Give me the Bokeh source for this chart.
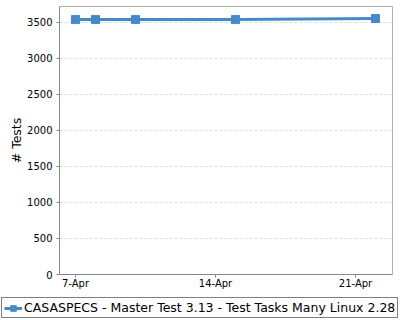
from datetime import datetime
from bokeh.plotting import figure
from bokeh.layouts import column
from bokeh.models import (FixedTicker, DatetimeTickFormatter, Legend, LegendItem,
                          Range1d, ColumnDataSource)
from bokeh.embed import file_html
from bokeh.resources import INLINE

dates = ["2021-04-07", "2021-04-08", "2021-04-10", "2021-04-15", "2021-04-22"]
tests = [3540, 3540, 3540, 3540, 3555]
series_name = "CASASPECS - Master Test 3.13 - Test Tasks Many Linux 2.28"
x_tick_dates = ["2021-04-07", "2021-04-14", "2021-04-21"]
y_ticks = [0, 500, 1000, 1500, 2000, 2500, 3000, 3500]

xs = [datetime.fromisoformat(d) for d in dates]
src = ColumnDataSource(dict(x=xs, y=tests))

DAY = 86400000.0
x0 = datetime.fromisoformat("2021-04-07").timestamp() * 1000
color = "#4689C8"

p = figure(width=400, height=296, output_backend="svg", toolbar_location=None,
           x_axis_type="datetime",
           x_range=Range1d(x0 - 0.8 * DAY, x0 + 15.85 * DAY),
           y_range=Range1d(0, 3722),
           min_border_left=59, min_border_right=8, min_border_top=6, min_border_bottom=22)
p.frame_align = False
p.background_fill_color = "white"
p.border_fill_color = "white"
p.outline_line_color = "#b0b0b0"
p.outline_line_width = 1

r1 = p.line("x", "y", source=src, line_color=color, line_width=3)
r2 = p.scatter("x", "y", source=src, marker="square", size=8, fill_color=color, line_color=color)

p.xaxis.ticker = FixedTicker(ticks=[datetime.fromisoformat(d).timestamp() * 1000 for d in x_tick_dates])
p.xaxis.formatter = DatetimeTickFormatter(days="%-d-%b", months="%-d-%b", hours="%-d-%b")
p.yaxis.ticker = FixedTicker(ticks=y_ticks)
p.yaxis.axis_label = "# Tests"
p.yaxis.axis_label_text_font = "DejaVu Sans"
p.yaxis.axis_label_text_font_style = "normal"
p.yaxis.axis_label_text_font_size = "12.5px"
p.yaxis.axis_label_text_color = "black"
p.yaxis.axis_label_standoff = 0

for ax in (p.xaxis[0], p.yaxis[0]):
    ax.major_label_text_font = "DejaVu Sans"
    ax.major_label_text_font_size = "10px"
    ax.major_label_text_color = "black"
    ax.axis_line_color = "#888888"
    ax.major_tick_line_color = "#888888"
    ax.minor_tick_line_color = None
    ax.major_tick_in = 0
    ax.major_tick_out = 3
p.xaxis.major_label_standoff = 0
p.yaxis.major_label_standoff = 4

p.xgrid.grid_line_color = None
p.ygrid.grid_line_color = "#dddddd"
p.ygrid.grid_line_dash = "3 2"

# legend strip below the chart
lg = figure(width=400, height=24, output_backend="svg", toolbar_location=None,
            x_range=Range1d(0, 1), y_range=Range1d(0, 1),
            min_border_left=0, min_border_right=0, min_border_top=0, min_border_bottom=0)
lg.frame_align = False
lg.axis.visible = False
lg.grid.visible = False
lg.outline_line_color = None
lr1 = lg.line(x=[-5, -4], y=[-5, -4], line_color=color, line_width=3)
lr2 = lg.scatter(x=[-5], y=[-5], marker="square", size=8, fill_color=color, line_color=color)
legend = Legend(items=[LegendItem(label=series_name, renderers=[lr1, lr2])],
                location=(1, 2), orientation="horizontal",
                border_line_color="black", border_line_width=1,
                background_fill_alpha=1.0,
                label_text_font="DejaVu Sans", label_text_font_size="12.5px",
                label_text_color="black",
                glyph_width=18, glyph_height=14, label_standoff=2,
                padding=2, margin=0, spacing=0)
lg.add_layout(legend, "center")

open("out.html", "w").write(file_html(column(p, lg, spacing=0), INLINE))
